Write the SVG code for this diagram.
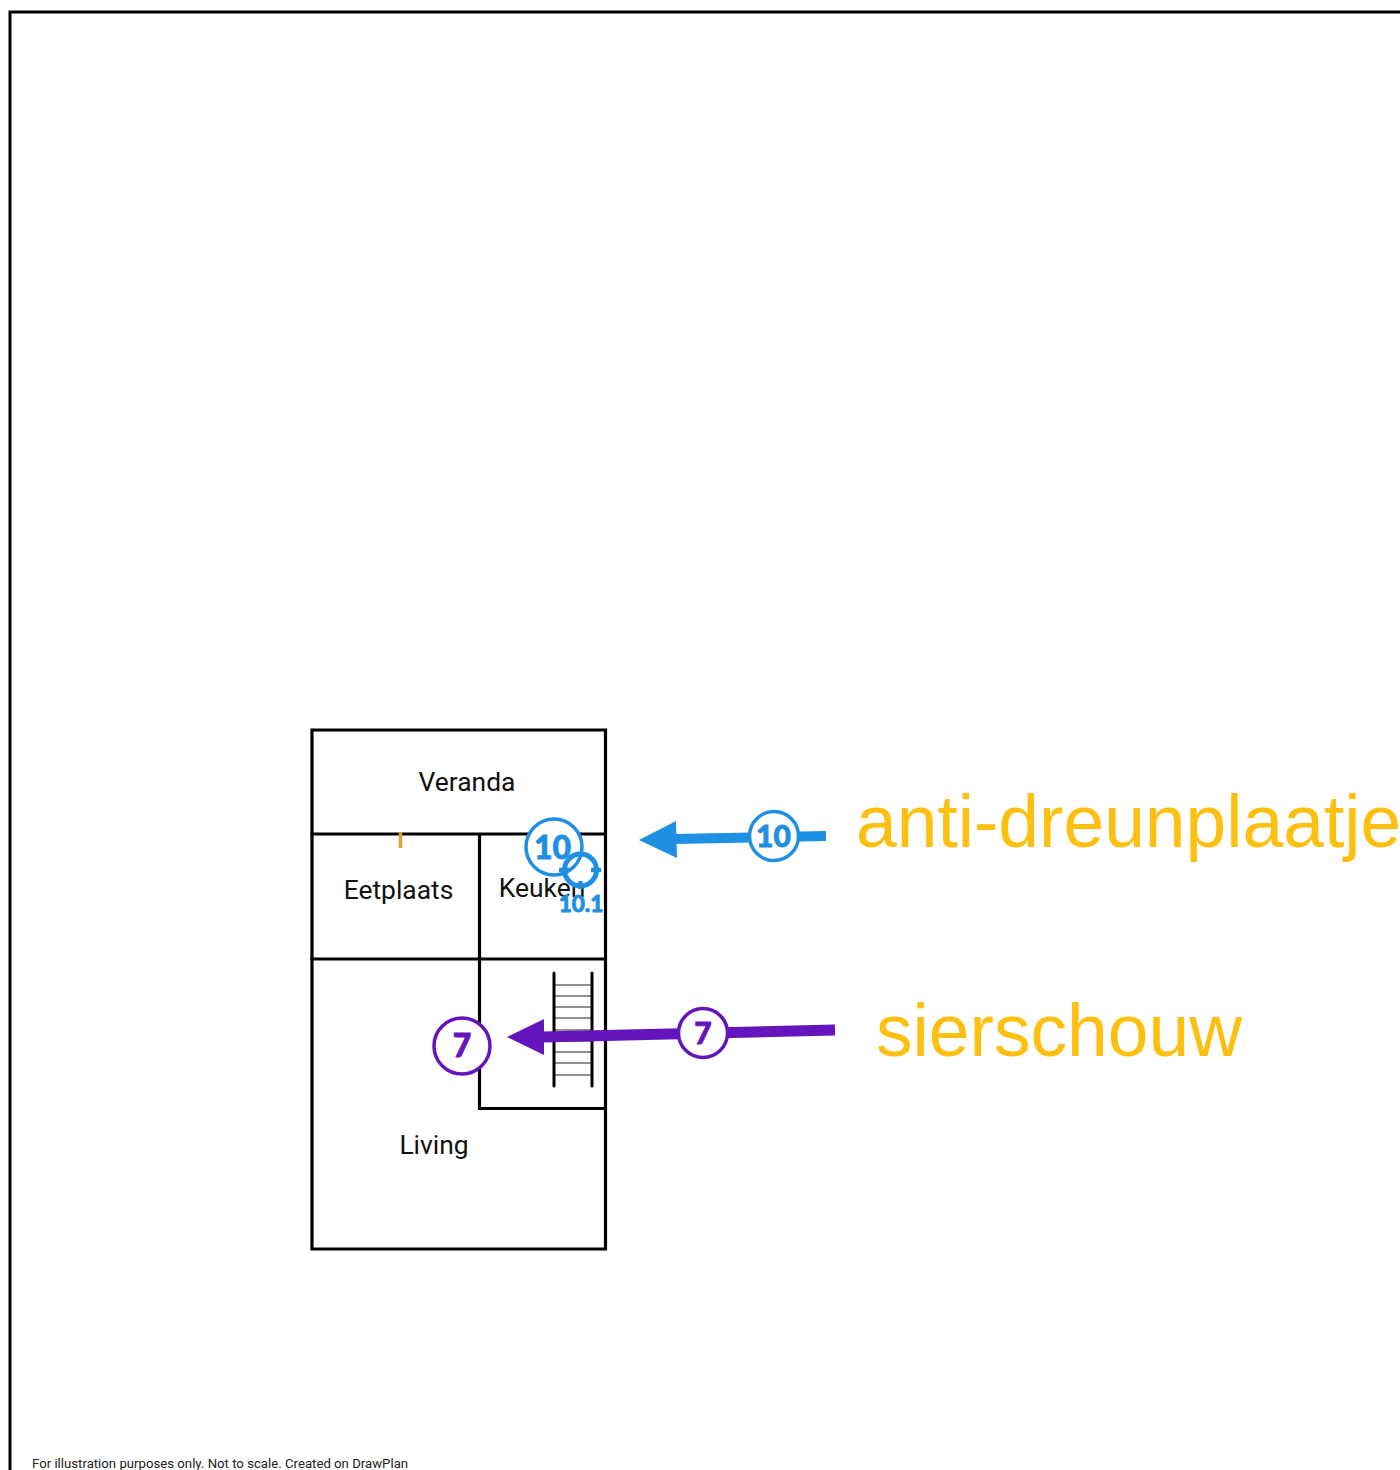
<svg xmlns="http://www.w3.org/2000/svg" width="1400" height="1470" viewBox="0 0 1400 1470">
<style>
.wall{fill:none;stroke:#000;stroke-width:3.2;stroke-linecap:square}
.tread{stroke:#222;stroke-width:1.2}
.rail{stroke:#000;stroke-width:3;stroke-linecap:round}
.room{font-family:Roboto,"Liberation Sans",sans-serif;font-size:26.4px;fill:#111;text-anchor:middle}
.big{font-family:"Liberation Sans",Arial,sans-serif;font-size:73.2px;fill:#fdc010}
.num{font-family:Lato,"Noto Sans",sans-serif;font-weight:900;text-anchor:middle;stroke-width:.8}
.blue{fill:#1e8fe3;stroke:#1e8fe3}
.purple{fill:#6415bb;stroke:#6415bb}
.w{fill:#fff;stroke-width:3.5}
</style>
<rect width="1400" height="1470" fill="#fff"/>
<path id="frame" d="M10 1470V12H1400" fill="none" stroke="#000" stroke-width="3"/>
<g id="plan">
<path class="wall" d="M312 730H605.500V1249H312Z"/>
<path class="wall" d="M312 834H605M479.500 834V1108.500H605M312 959H605"/>
<path d="M400.500 832V848" stroke="#e0a030" stroke-width="3.500"/>
<g id="stairs">
<path class="tread" d="M555 985H591M555 996H591M555 1007H591M555 1018H591M555 1030H591M555 1041H591M555 1052H591M555 1063H591M555 1075H591"/>
<path class="rail" d="M554 973V1086M592 973V1086"/>
</g>
<text class="room" x="467" y="791">Veranda</text>
<text class="room" x="398.500" y="899">Eetplaats</text>
<text class="room" x="542" y="897">Keuken</text>
<text class="room" x="434" y="1154">Living</text>
</g>
<g id="connectors">
<path d="M826 836L674 839" stroke="#1e8fe3" stroke-width="10" fill="none"/>
<polygon fill="#1e8fe3" points="639,840 676,821 677,858"/>
<path d="M835 1030L542 1037" stroke="#6415bb" stroke-width="11" fill="none"/>
<polygon fill="#6415bb" points="507,1037 544,1019 544,1055"/>
</g>
<g id="marker-10">
<circle class="w" cx="554" cy="847" r="28" stroke="#1e8fe3"/>
<text class="num blue" x="552.500" y="858.500" font-size="32">10</text>
</g>
<g id="marker-10-1" fill="none" stroke="#1e8fe3">
<circle cx="580.500" cy="870" r="16" stroke-width="5"/>
<path d="M559 870H569M591 870H601M580.500 881V889" stroke-width="4.500"/>
<text class="num blue" x="581" y="912" font-size="22.500">10.1</text>
</g>
<g id="marker-10b">
<circle class="w" cx="774" cy="836" r="24.500" stroke="#1e8fe3"/>
<text class="num blue" x="773.500" y="847" font-size="30">10</text>
</g>
<g id="marker-7">
<circle class="w" cx="462" cy="1046" r="28" stroke="#6415bb"/>
<text class="num purple" x="462" y="1057" font-size="32">7</text>
</g>
<g id="marker-7b">
<circle class="w" cx="703" cy="1033" r="24.500" stroke="#6415bb"/>
<text class="num purple" x="703" y="1044" font-size="30">7</text>
</g>
<text class="big" x="856" y="847">anti-dreunplaatje</text>
<text class="big" x="876" y="1056">sierschouw</text>
<text x="32" y="1468" font-family="Roboto,'Liberation Sans',sans-serif" font-size="13.2" fill="#222">For illustration purposes only. Not to scale. Created on DrawPlan</text>
</svg>
